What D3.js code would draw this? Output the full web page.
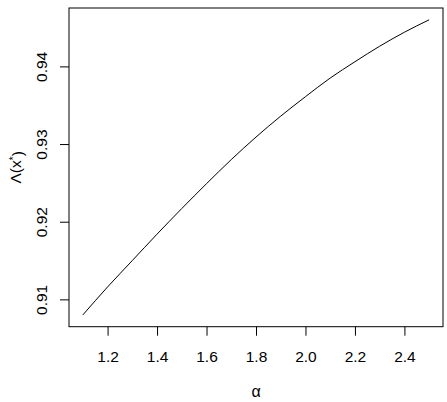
<!DOCTYPE html>
<html>
<head>
<meta charset="utf-8">
<script src="https://cdn.jsdelivr.net/npm/d3@7"></script>
<style>
  html, body { margin: 0; padding: 0; background: #fff; }
  svg { display: block; font-family: "Liberation Sans", Arial, Helvetica, sans-serif; }
</style>
</head>
<body>
<div id="chart"></div>
<script>
// values
const alphas = [1.1, 1.2, 1.3, 1.4, 1.5, 1.6, 1.7, 1.8, 1.9, 2.0, 2.1, 2.2, 2.3, 2.4, 2.5];
const lambdas = [0.9080, 0.9116, 0.9150, 0.9184, 0.9217, 0.9249, 0.9280, 0.9309,
                 0.9336, 0.9361, 0.9385, 0.9406, 0.9426, 0.9444, 0.9460];
const xTicks = [1.2, 1.4, 1.6, 1.8, 2.0, 2.2, 2.4];
const yTicks = [0.91, 0.92, 0.93, 0.94];

const width = 447;
const height = 402;
const plot = { left: 69, right: 443, top: 8, bottom: 326.7 };
const fontSize = "15.5px";

const data = alphas.map((a, i) => ({ a: a, v: lambdas[i] }));

// R style 4% padding on each side
function pad(ext) {
    const d = (ext[1] - ext[0]) * 0.04;
    return [ext[0] - d, ext[1] + d];
}

const xScale = d3.scaleLinear()
    .domain(pad(d3.extent(alphas)))
    .range([plot.left, plot.right]);

const yScale = d3.scaleLinear()
    .domain(pad(d3.extent(lambdas)))
    .range([plot.bottom, plot.top]);

const svg = d3.select("#chart")
    .append("svg")
    .attr("width", width)
    .attr("height", height);

svg.append("rect")
    .attr("width", width)
    .attr("height", height)
    .attr("fill", "#fff");

// x axis
const xAxis = svg.append("g")
    .attr("transform", `translate(0,${plot.bottom})`)
    .call(d3.axisBottom(xScale)
        .tickValues(xTicks)
        .tickFormat(d3.format(".1f"))
        .tickSize(9)
        .tickPadding(15)
        .tickSizeOuter(0));

xAxis.select(".domain").remove();
xAxis.selectAll("line").attr("stroke", "#000");
xAxis.selectAll("text")
    .attr("fill", "#000")
    .style("font-size", fontSize);

// y axis, labels rotated like R
const yAxis = svg.append("g")
    .attr("transform", `translate(${plot.left},0)`)
    .call(d3.axisLeft(yScale)
        .tickValues(yTicks)
        .tickFormat(d3.format(".2f"))
        .tickSize(9)
        .tickSizeOuter(0));

yAxis.select(".domain").remove();
yAxis.selectAll("line").attr("stroke", "#000");
yAxis.selectAll("text")
    .attr("fill", "#000")
    .attr("x", 0)
    .attr("y", -22)
    .attr("dy", null)
    .attr("text-anchor", "middle")
    .attr("transform", "rotate(-90)")
    .style("font-size", fontSize);

// box
svg.append("rect")
    .attr("x", plot.left)
    .attr("y", plot.top)
    .attr("width", plot.right - plot.left)
    .attr("height", plot.bottom - plot.top)
    .attr("fill", "none")
    .attr("stroke", "#000")
    .attr("stroke-width", 1);

// curve
const line = d3.line()
    .x(d => xScale(d.a))
    .y(d => yScale(d.v))
    .curve(d3.curveMonotoneX);

svg.append("path")
    .datum(data)
    .attr("d", line)
    .attr("fill", "none")
    .attr("stroke", "#000")
    .attr("stroke-width", 1);

// axis titles
svg.append("text")
    .attr("x", (plot.left + plot.right) / 2)
    .attr("y", 397)
    .attr("text-anchor", "middle")
    .style("font-size", "16px")
    .text("α");

const ylab = svg.append("text")
    .attr("transform", `translate(21,${(plot.top + plot.bottom) / 2}) rotate(-90)`)
    .attr("text-anchor", "middle")
    .style("font-size", fontSize);
ylab.append("tspan").text("Λ(x");
ylab.append("tspan").attr("dy", "-0.45em").style("font-size", "10px").text("*");
ylab.append("tspan").attr("dy", "0.45em").text(")");
</script>
</body>
</html>
